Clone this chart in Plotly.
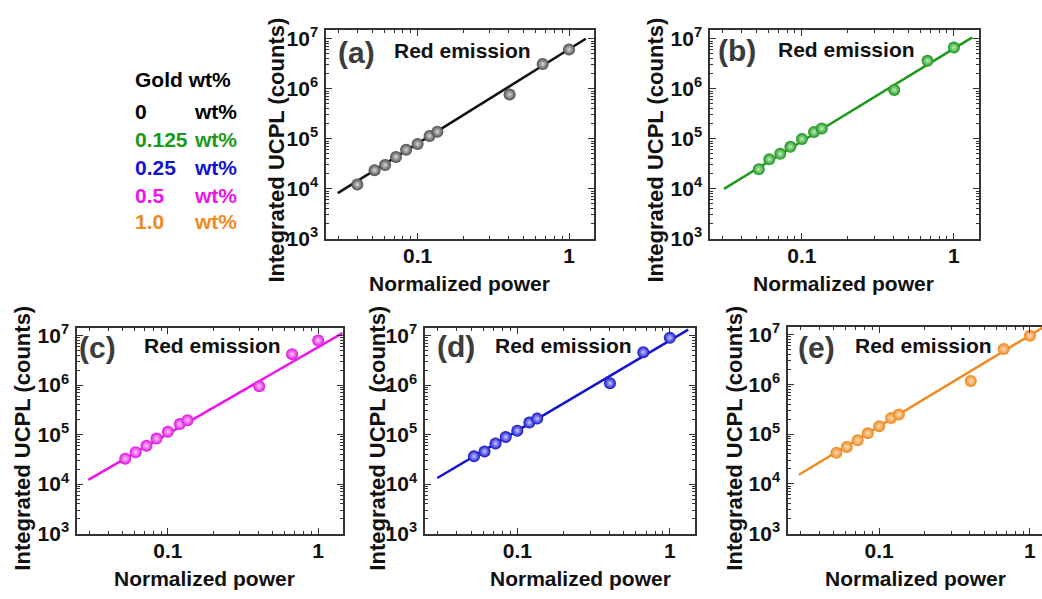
import plotly.graph_objects as go

# ---------------- data ----------------
panel_labels = ["(a)", "(b)", "(c)", "(d)", "(e)"]
gold_wt = ["0", "0.125", "0.25", "0.5", "1.0"]

power_a = [0.04, 0.052, 0.061, 0.072, 0.084, 0.1, 0.12, 0.135, 0.405, 0.67, 1.0]
power = [0.052, 0.061, 0.072, 0.084, 0.1, 0.12, 0.135, 0.405, 0.67, 1.0]

ucpl_a = [1.22e4, 2.36e4, 2.99e4, 4.34e4, 6.03e4, 7.88e4, 1.14e5, 1.39e5, 7.7e5, 3.13e6, 6.1e6]
ucpl_b = [2.47e4, 3.9e4, 5.0e4, 6.9e4, 9.9e4, 1.37e5, 1.61e5, 9.5e5, 3.63e6, 6.68e6]
ucpl_c = [3.27e4, 4.42e4, 5.97e4, 8.3e4, 1.14e5, 1.63e5, 1.95e5, 9.5e5, 4.2e6, 7.9e6]
ucpl_d = [3.64e4, 4.56e4, 6.63e4, 8.9e4, 1.2e5, 1.75e5, 2.1e5, 1.09e6, 4.6e6, 9.0e6]
ucpl_e = [4.2e4, 5.5e4, 7.5e4, 1.04e5, 1.44e5, 2.1e5, 2.47e5, 1.17e6, 5.1e6, 9.5e6]

fit_x_a = [0.0297, 1.29]
fit_y_a = [8.2e3, 1.0e7]
fit_x_b = [0.0307, 1.32]
fit_y_b = [1.0e4, 1.07e7]
fit_x_c = [0.0295, 1.45]
fit_y_c = [1.22e4, 1.12e7]
fit_x_d = [0.0299, 1.32]
fit_y_d = [1.33e4, 1.31e7]
fit_x_e = [0.0293, 1.45]
fit_y_e = [1.53e4, 1.9e7]

x_tick_vals = [0.1, 1]
x_tick_text = ["0.1", "1"]
y_tick_vals = [1e3, 1e4, 1e5, 1e6, 1e7]
y_tick_text = ["10<sup>3</sup>", "10<sup>4</sup>", "10<sup>5</sup>", "10<sup>6</sup>", "10<sup>7</sup>"]

# ---------------- styling ----------------
W, H = 1042, 599
FONT = "Liberation Sans, Arial, sans-serif"
line_colors = ["#111111", "#1a9a1a", "#ee14ee", "#1414d2", "#f28a22"]
marker_colors = ["#4a4a4a", "#179317", "#e010e0", "#1010c8", "#ee8418"]
marker_centers = ["#d8d8d8", "#bff0bf", "#ffc8ff", "#c8c8ff", "#ffe0bc"]
legend_colors = ["#000000", "#1a9a1a", "#1414d2", "#ee14ee", "#f28a22"]

def px(x):
    return x / W

def py(y):
    return 1 - y / H

# panel frames in pixels: (left, right, top, bottom)
frames = [
    (326, 594, 24, 239),
    (710, 979, 24, 239),
    (77, 343, 331, 543),
    (425, 695, 331, 543),
    (788, 1042, 330, 543),
]
x_ranges = [[-1.605, 0.165]] * 4 + [[-1.605, 0.08]]
y_ranges = [[3, 7.17], [3, 7.17], [3, 7.15], [3, 7.15], [3, 7.15]]

xs = [power_a, power, power, power, power]
ys = [ucpl_a, ucpl_b, ucpl_c, ucpl_d, ucpl_e]
fxs = [fit_x_a, fit_x_b, fit_x_c, fit_x_d, fit_x_e]
fys = [fit_y_a, fit_y_b, fit_y_c, fit_y_d, fit_y_e]

fig = go.Figure()
layout = dict(
    width=W, height=H,
    margin=dict(l=0, r=0, t=0, b=0),
    paper_bgcolor="white", plot_bgcolor="white",
    showlegend=False,
    font=dict(family=FONT, color="#111111"),
)

for i in range(5):
    n = "" if i == 0 else str(i + 1)
    xa, ya = "x" + n, "y" + n
    fig.add_trace(go.Scatter(
        x=fxs[i], y=fys[i], mode="lines", xaxis=xa, yaxis=ya,
        line=dict(color=line_colors[i], width=2.5), hoverinfo="skip",
    ))
    fig.add_trace(go.Scatter(
        x=xs[i], y=ys[i], mode="markers", xaxis=xa, yaxis=ya,
        marker=dict(size=12, color=marker_colors[i], line=dict(width=0),
                    gradient=dict(type="radial", color=marker_centers[i])),
    ))
    l, r, t, b = frames[i]
    common = dict(
        type="log", showgrid=False, zeroline=False,
        showline=True, linecolor="#333333", linewidth=1.5,
        ticks="inside", ticklen=6, tickwidth=1.3, tickcolor="#333333",
        minor=dict(ticks="inside", ticklen=3, tickwidth=1, tickcolor="#333333", dtick="D1"),
        tickfont=dict(family=FONT, size=21, color="#111111", weight="bold"),
    )
    layout["xaxis" + n] = dict(
        common, domain=[px(l), px(r)], range=x_ranges[i], anchor=ya,
        tickmode="array", tickvals=x_tick_vals, ticktext=x_tick_text,
        mirror="allticks", ticklabelstandoff=-3,
    )
    layout["yaxis" + n] = dict(
        common, domain=[py(b), py(t)], range=y_ranges[i], anchor=xa,
        tickmode="array", tickvals=y_tick_vals, ticktext=y_tick_text,
        mirror=("allticks" if i < 4 else False), ticklabelstandoff=2,
    )

annotations = []
xtitle_font = dict(family=FONT, size=21, color="#111111", weight="bold")
ytitle_font = dict(family=FONT, size=22, color="#111111", weight="bold")

# axis titles
ytitle_pos = [(277, 148), (656, 148), (23, 445), (378, 445), (735, 445)]
xtitle_pos = [(459, 285), (843, 285), (204, 589), (580, 589), (915, 589)]
for (x, y) in ytitle_pos:
    annotations.append(dict(x=px(x), y=py(y), xref="paper", yref="paper",
                            text="Integrated UCPL (counts)", textangle=-90,
                            showarrow=False, font=ytitle_font,
                            xanchor="center", yanchor="middle"))
for (x, y) in xtitle_pos:
    annotations.append(dict(x=px(x), y=py(y), xref="paper", yref="paper",
                            text="Normalized power", showarrow=False,
                            font=xtitle_font, xanchor="center", yanchor="middle"))

# panel letters & "Red emission"
letter_pos = [(356, 47), (737, 45), (97, 351), (456, 350), (816, 351)]
red_pos = [(462, 45), (846, 44), (212, 349), (563, 349), (923, 349)]
for i in range(5):
    annotations.append(dict(x=px(letter_pos[i][0]), y=py(letter_pos[i][1]),
                            xref="paper", yref="paper", text=panel_labels[i],
                            showarrow=False,
                            font=dict(family=FONT, size=30, color="#3c3c3c", weight="bold"),
                            xanchor="center", yanchor="middle"))
    annotations.append(dict(x=px(red_pos[i][0]), y=py(red_pos[i][1]),
                            xref="paper", yref="paper", text="Red emission",
                            showarrow=False,
                            font=dict(family=FONT, size=21, color="#111111", weight="bold"),
                            xanchor="center", yanchor="middle"))

# legend text block
annotations.append(dict(x=px(133), y=py(75), xref="paper", yref="paper",
                        text="Gold wt%", showarrow=False,
                        font=dict(family=FONT, size=21, color="#000000", weight="bold"),
                        xanchor="left", yanchor="middle"))
row_y = [108, 137, 165, 194, 221]
for i in range(5):
    f = dict(family=FONT, size=21, color=legend_colors[i], weight="bold")
    annotations.append(dict(x=px(133), y=py(row_y[i]), xref="paper", yref="paper",
                            text=gold_wt[i], showarrow=False, font=f,
                            xanchor="left", yanchor="middle"))
    annotations.append(dict(x=px(192), y=py(row_y[i]), xref="paper", yref="paper",
                            text="wt%", showarrow=False, font=f,
                            xanchor="left", yanchor="middle"))

layout["annotations"] = annotations
fig.update_layout(**layout)
fig.write_html("out.html",
               config={"displayModeBar": False},
               post_script="document.body.style.margin='0';document.body.style.overflow='hidden';")
